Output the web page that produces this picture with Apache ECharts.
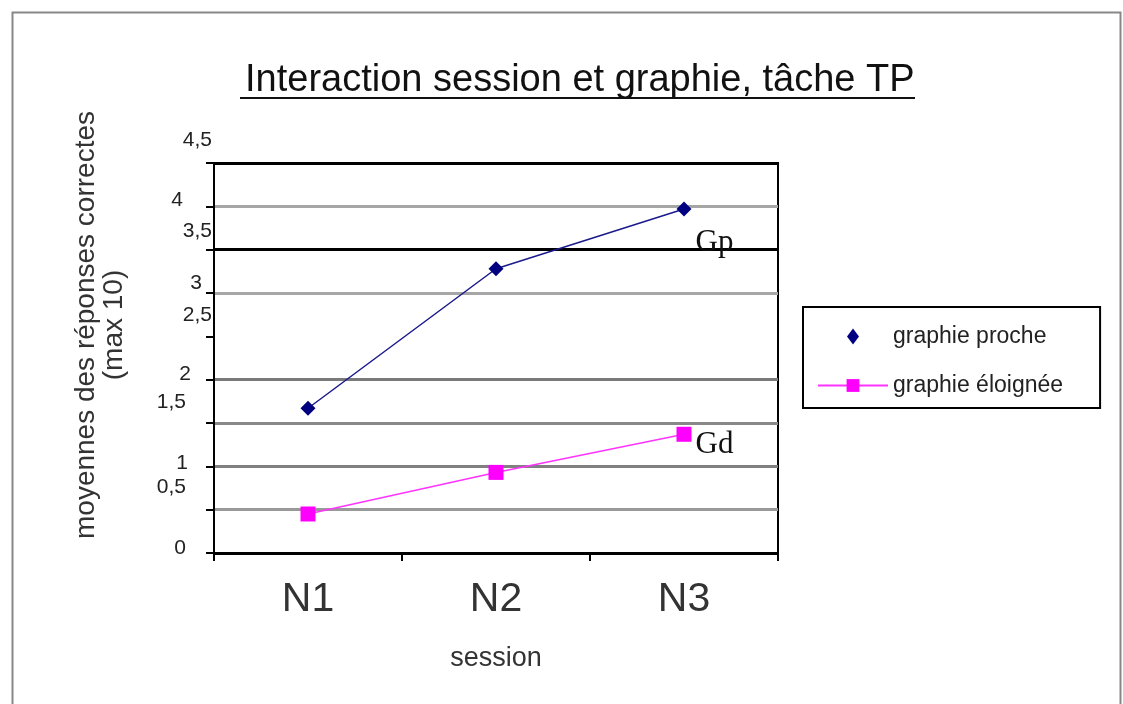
<!DOCTYPE html>
<html>
<head>
<meta charset="utf-8">
<script src="https://cdn.jsdelivr.net/npm/echarts@6/dist/echarts.min.js"></script>
<style>
  html, body { margin: 0; padding: 0; background: #fff; }
  #chart { width: 1123px; height: 704px; }
</style>
</head>
<body>
<div id="chart"></div>
<script>
// Sessions and mean correct answers (out of 10) per graphie condition
const categories = ['N1', 'N2', 'N3'];
const gpValues = [1.67, 3.28, 3.97];   // graphie proche
const gdValues = [0.45, 0.93, 1.37];   // graphie éloignée
const yTickLabels = ['0', '0,5', '1', '1,5', '2', '2,5', '3', '3,5', '4', '4,5'];
const seriesNames = ['graphie proche', 'graphie éloignée'];
const endTags = ['Gp', 'Gd'];

// per-tick label nudges: [right padding, lift]
const tickNudge = [[26, 5], [26, 22], [24, 3], [26, 21], [21, 5], [0, 21], [10, 10], [0, 18], [29, 6], [0, 23]];
const tickRich = {};
tickNudge.forEach(([r, up], i) => {
  tickRich['s' + i] = { fontSize: 21, color: '#222', fontFamily: 'Liberation Sans, Arial', padding: [0, r, up * 2, 0] };
});

// split line colours, one per tick from 0 to 4,5
const splitColors = ['#000', '#999', '#808080', '#888', '#7a7a7a', 'rgba(0,0,0,0)', '#a6a6a6', '#000', '#a6a6a6', '#000'];

const chart = echarts.init(document.getElementById('chart'));
chart.setOption({
  backgroundColor: '#fff',
  animation: false,
  title: {
    text: 'Interaction session et graphie, tâche TP',
    left: 240,
    top: 57,
    textStyle: { fontSize: 38, fontWeight: 'normal', color: '#111', fontFamily: 'Liberation Sans, Arial' }
  },
  graphic: [
    { type: 'rect', left: 10, top: 10, shape: { width: 1108, height: 700 }, style: { fill: 'none', stroke: '#888', lineWidth: 2 }, silent: true },
    { type: 'line', shape: { x1: 240, y1: 98, x2: 915, y2: 98 }, style: { stroke: '#111', lineWidth: 2 }, silent: true }
  ],
  legend: {
    orient: 'vertical',
    left: 803,
    top: 307,
    padding: [18, 37, 11, 14],
    itemWidth: 70,
    itemHeight: 16,
    itemGap: 26,
    symbolKeepAspect: true,
    borderColor: '#000',
    borderWidth: 2,
    textStyle: { fontSize: 23, color: '#222', fontFamily: 'Liberation Sans, Arial' },
    data: [
      { name: seriesNames[0], icon: 'path://M6,0 L12,8 L6,16 L0,8 Z', itemStyle: { color: '#000080' } },
      { name: seriesNames[1] }
    ]
  },
  grid: {
    left: 214, right: 345, top: 163, bottom: 151,
    show: true, borderColor: '#000', borderWidth: 2
  },
  xAxis: {
    type: 'category',
    data: categories,
    boundaryGap: true,
    name: 'session',
    nameLocation: 'middle',
    nameGap: 92,
    nameTextStyle: { fontSize: 27, color: '#333', fontFamily: 'Liberation Sans, Arial' },
    axisLine: { lineStyle: { color: '#000', width: 2 } },
    axisTick: { show: true, length: 8, lineStyle: { color: '#000', width: 2 } },
    axisLabel: { fontSize: 41, color: '#333', margin: 26, fontFamily: 'Liberation Sans, Arial' },
    splitLine: { show: false }
  },
  yAxis: {
    type: 'value',
    min: 0,
    max: 4.5,
    interval: 0.5,
    name: 'moyennes des réponses correctes\n(max 10)',
    nameLocation: 'middle',
    nameGap: 86,
    nameTextStyle: { fontSize: 28, color: '#333', lineHeight: 28, align: 'center', fontFamily: 'Liberation Sans, Arial', padding: [0, 0, 0, 66] },
    axisLine: { show: true, lineStyle: { color: '#000', width: 2 } },
    axisTick: { show: true, length: 8, lineStyle: { color: '#000', width: 2 } },
    axisLabel: {
      margin: 2,
      formatter: v => {
        const i = Math.round(v / 0.5);
        return '{s' + i + '|' + yTickLabels[i] + '}';
      },
      rich: tickRich
    },
    splitLine: { show: true, lineStyle: { color: splitColors, width: 3 } }
  },
  series: [
    {
      name: seriesNames[0],
      type: 'line',
      data: gpValues,
      symbol: 'diamond',
      symbolSize: 15,
      itemStyle: { color: '#000080' },
      lineStyle: { color: '#1a1a8c', width: 1.5 },
      label: {
        show: true,
        position: 'right',
        distance: 4,
        offset: [0, 34],
        formatter: p => (p.dataIndex === gpValues.length - 1 ? endTags[0] : ''),
        fontSize: 31,
        color: '#111',
        fontFamily: 'Liberation Serif, Times New Roman, serif'
      },
      z: 3
    },
    {
      name: seriesNames[1],
      type: 'line',
      data: gdValues,
      symbol: 'rect',
      symbolSize: 15,
      itemStyle: { color: '#ff00ff' },
      lineStyle: { color: '#ff33ff', width: 1.5 },
      label: {
        show: true,
        position: 'right',
        distance: 4,
        offset: [0, 11],
        formatter: p => (p.dataIndex === gdValues.length - 1 ? endTags[1] : ''),
        fontSize: 31,
        color: '#111',
        fontFamily: 'Liberation Serif, Times New Roman, serif'
      },
      z: 3
    }
  ]
});
</script>
</body>
</html>
